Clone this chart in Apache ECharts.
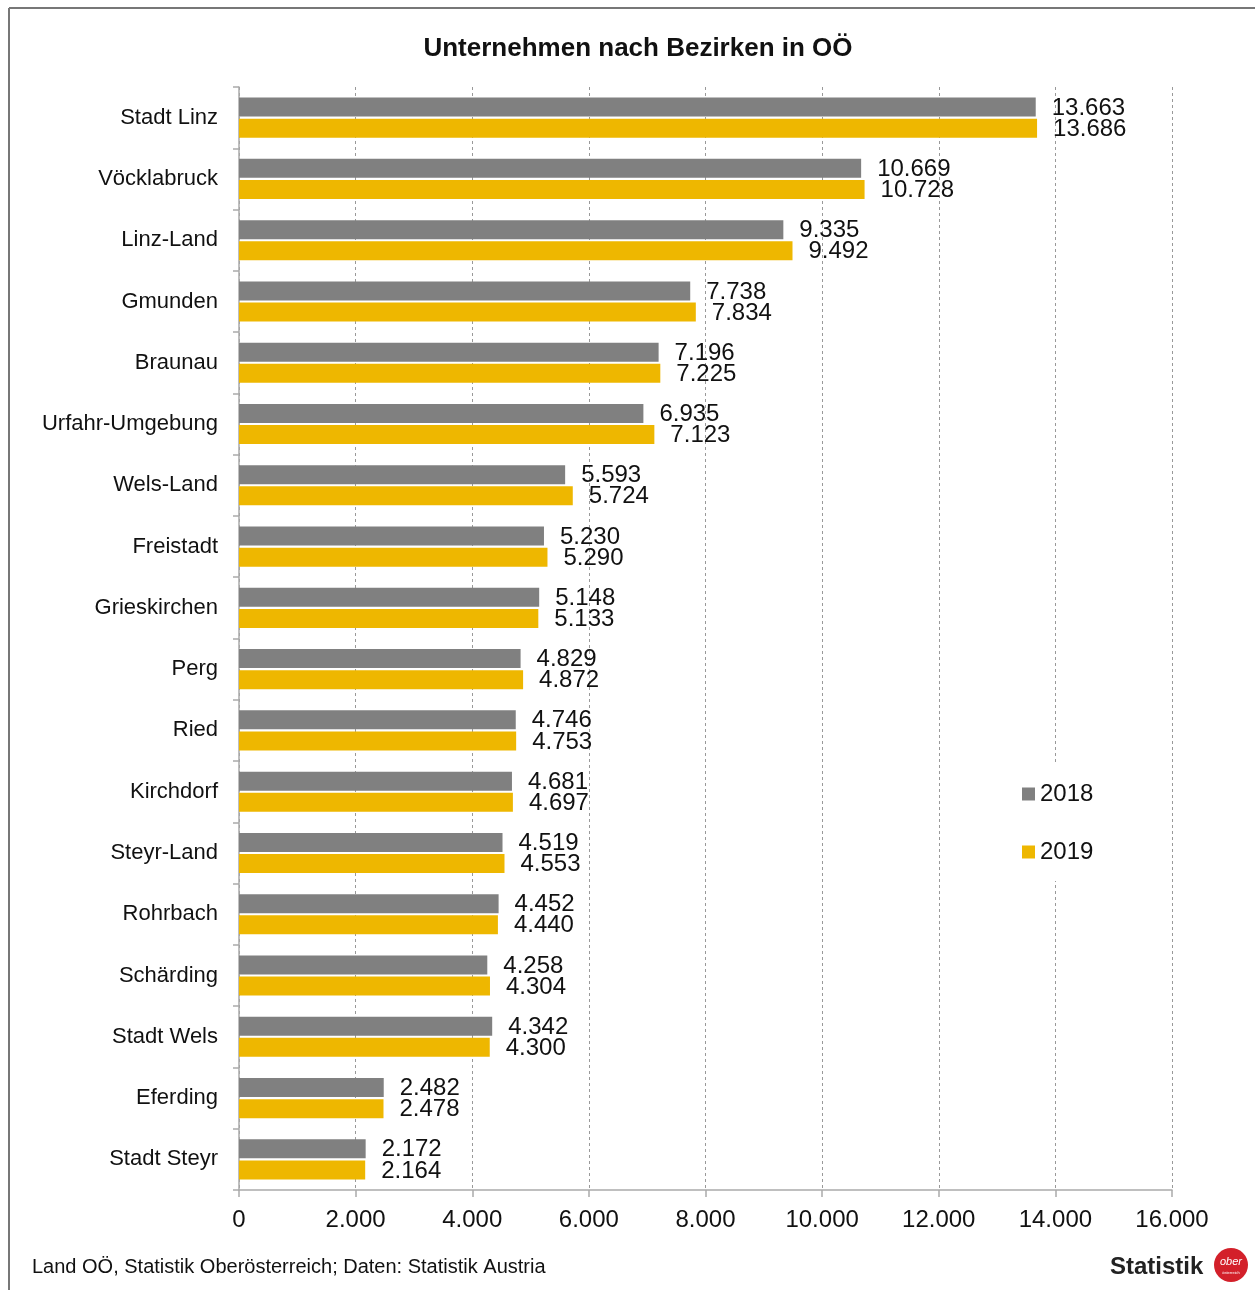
<!DOCTYPE html>
<html>
<head>
<meta charset="utf-8">
<script src="https://cdn.jsdelivr.net/npm/echarts@6/dist/echarts.min.js"></script>
<style>
html,body{margin:0;padding:0;background:#fff;}
#c{width:1255px;height:1290px;}
</style>
</head>
<body>
<div id="c"></div>
<script>
const categories = ["Stadt Linz","Vöcklabruck","Linz-Land","Gmunden","Braunau","Urfahr-Umgebung","Wels-Land","Freistadt","Grieskirchen","Perg","Ried","Kirchdorf","Steyr-Land","Rohrbach","Schärding","Stadt Wels","Eferding","Stadt Steyr"];
const values2018 = [13663,10669,9335,7738,7196,6935,5593,5230,5148,4829,4746,4681,4519,4452,4258,4342,2482,2172];
const values2019 = [13686,10728,9492,7834,7225,7123,5724,5290,5133,4872,4753,4697,4553,4440,4304,4300,2478,2164];
const seriesNames = ["2018","2019"];
const xTicks = [0,2000,4000,6000,8000,10000,12000,14000,16000];

const FONT = "'Liberation Sans', Arial, sans-serif";
function fmt(v){ return String(v).replace(/\B(?=(\d{3})+(?!\d))/g, '.'); }

const chart = echarts.init(document.getElementById('c'), null, {renderer:'canvas'});
const labelCfg = {
  show:true, position:'right', distance:16,
  color:'#111', fontSize:24, fontFamily:FONT,
  offset:[0,1],
  formatter: p => fmt(p.value)
};
chart.setOption({
  backgroundColor:'#fff',
  animation:false,
  title:{
    text:'Unternehmen nach Bezirken in OÖ',
    left:633, top:31, textAlign:'center',
    textStyle:{fontFamily:FONT, fontSize:26, fontWeight:'bold', color:'#111'}
  },
  legend:{
    orient:'vertical',
    left:1017, top:763,
    padding:[19,8,17,5],
    backgroundColor:'#fff',
    itemWidth:13, itemHeight:13, itemGap:34,
    icon:'rect',
    textStyle:{fontFamily:FONT, fontSize:24, color:'#111'},
    data:seriesNames
  },
  grid:{left:239, right:83, top:87, bottom:100, containLabel:false},
  xAxis:{
    type:'value', min:xTicks[0], max:xTicks[xTicks.length-1], interval:2000,
    axisLine:{show:true, lineStyle:{color:'#aaa', width:1.5}},
    axisTick:{show:true, length:7, lineStyle:{color:'#aaa', width:1.5}},
    axisLabel:{fontFamily:FONT, fontSize:24, color:'#111', margin:18, formatter:v=>fmt(v)},
    splitLine:{show:true, lineStyle:{color:'#999', type:[3,3], width:1}}
  },
  yAxis:{
    type:'category', data:categories, inverse:true,
    axisLine:{show:true, lineStyle:{color:'#aaa', width:1.5}},
    axisTick:{show:true, length:6, lineStyle:{color:'#aaa', width:1.5}},
    axisLabel:{fontFamily:FONT, fontSize:22, color:'#111', margin:21}
  },
  series:[
    {name:seriesNames[0], type:'bar', data:values2018, barWidth:19, barGap:'11%',
     itemStyle:{color:'#808080'}, label:labelCfg},
    {name:seriesNames[1], type:'bar', data:values2019, barWidth:19,
     itemStyle:{color:'#EEB700'}, label:labelCfg}
  ],
  graphic:[
    {type:'line', shape:{x1:9,y1:8,x2:1255,y2:8}, style:{stroke:'#777', lineWidth:2}, z:100},
    {type:'line', shape:{x1:9,y1:8,x2:9,y2:1290}, style:{stroke:'#777', lineWidth:2}, z:100},
    {type:'text', left:32, top:1257, style:{text:'Land OÖ, Statistik Oberösterreich; Daten: Statistik Austria', font:'20px '+FONT, fill:'#111'}},
    {type:'text', left:1110, top:1255, style:{text:'Statistik', font:'bold 24px '+FONT, fill:'#222'}},
    {type:'circle', shape:{cx:1231, cy:1265, r:17}, style:{fill:'#D3202A'}},
    {type:'text', x:1231, y:1262, style:{text:'ober', font:'italic 11px '+FONT, fill:'#fff', textAlign:'center', textVerticalAlign:'middle'}},
    {type:'text', x:1231, y:1273, style:{text:'österreich', font:'4px '+FONT, fill:'#fff', textAlign:'center', textVerticalAlign:'middle'}}
  ]
});
</script>
</body>
</html>
